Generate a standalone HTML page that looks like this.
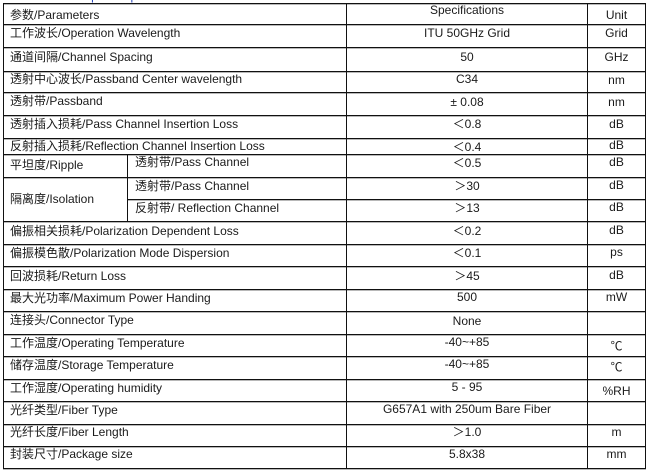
<!DOCTYPE html>
<html>
<head>
<meta charset="utf-8">
<style>
html,body{margin:0;padding:0;background:#fff;}
body{width:652px;height:475px;position:relative;overflow:hidden;font-family:"Liberation Sans","Noto Sans CJK SC",sans-serif;font-size:12px;color:#1a1a1a;}
.h{position:absolute;height:1px;background:#111;box-shadow:0 1px 0 #b8b8b8;}
.v{position:absolute;width:1px;background:#111;}
.t{position:absolute;height:14px;line-height:14px;white-space:nowrap;}
.c{text-align:center;}
.s{left:346px;width:242px;}
.u{left:588px;width:57px;}
.p{left:10px;}
.q{left:135px;}
.cj{font-family:"Noto Sans CJK SC","Liberation Sans",sans-serif;}
.top{position:absolute;left:28px;top:-11px;font-size:12px;line-height:14px;color:#2b47b8;white-space:nowrap;}
</style>
</head>
<body>
<div class="top"><b>Table 2</b>&nbsp;&nbsp;&nbsp;&nbsp;Optical Specifications of 50GHz Filter</div>

<!-- horizontal lines -->
<div class="h" style="left:3px;width:643px;top:3px"></div>
<div class="h" style="left:3px;width:643px;top:24px"></div>
<div class="h" style="left:3px;width:643px;top:47px"></div>
<div class="h" style="left:3px;width:643px;top:71px"></div>
<div class="h" style="left:3px;width:643px;top:92px"></div>
<div class="h" style="left:3px;width:643px;top:115px"></div>
<div class="h" style="left:3px;width:643px;top:138px"></div>
<div class="h" style="left:3px;width:643px;top:154px"></div>
<div class="h" style="left:3px;width:643px;top:177px"></div>
<div class="h" style="left:127px;width:519px;top:199px"></div>
<div class="h" style="left:3px;width:643px;top:221px"></div>
<div class="h" style="left:3px;width:643px;top:244px"></div>
<div class="h" style="left:3px;width:643px;top:266px"></div>
<div class="h" style="left:3px;width:643px;top:289px"></div>
<div class="h" style="left:3px;width:643px;top:311px"></div>
<div class="h" style="left:3px;width:643px;top:334px"></div>
<div class="h" style="left:3px;width:643px;top:356px"></div>
<div class="h" style="left:3px;width:643px;top:379px"></div>
<div class="h" style="left:3px;width:643px;top:401px"></div>
<div class="h" style="left:3px;width:643px;top:424px"></div>
<div class="h" style="left:3px;width:643px;top:446px"></div>
<div class="h" style="left:3px;width:643px;top:468px"></div>

<!-- vertical lines -->
<div class="v" style="left:3px;top:3px;height:466px"></div>
<div class="v" style="left:346px;top:3px;height:466px"></div>
<div class="v" style="left:587px;top:3px;height:466px"></div>
<div class="v" style="left:645px;top:3px;height:466px"></div>
<div class="v" style="left:127px;top:154px;height:67px"></div>

<!-- row 1 -->
<div class="t p" style="top:8px">参数/Parameters</div>
<div class="t c s" style="top:3px">Specifications</div>
<div class="t c u" style="top:8px">Unit</div>
<!-- row 2 -->
<div class="t p" style="top:26px">工作波长/Operation Wavelength</div>
<div class="t c s" style="top:26px">ITU 50GHz Grid</div>
<div class="t c u" style="top:26px">Grid</div>
<!-- row 3 -->
<div class="t p" style="top:50px">通道间隔/Channel Spacing</div>
<div class="t c s" style="top:50px">50</div>
<div class="t c u" style="top:50px">GHz</div>
<!-- row 4 -->
<div class="t p" style="top:72px">透射中心波长/Passband Center wavelength</div>
<div class="t c s" style="top:72px">C34</div>
<div class="t c u" style="top:73px">nm</div>
<!-- row 5 -->
<div class="t p" style="top:94px">透射带/Passband</div>
<div class="t c s" style="top:95px">± 0.08</div>
<div class="t c u" style="top:95px">nm</div>
<!-- row 6 -->
<div class="t p" style="top:117px">透射插入损耗/Pass Channel Insertion Loss</div>
<div class="t c s" style="top:117px"><span class="cj">＜</span>0.8</div>
<div class="t c u" style="top:117px">dB</div>
<!-- row 7 -->
<div class="t p" style="top:139px">反射插入损耗/Reflection Channel Insertion Loss</div>
<div class="t c s" style="top:140px"><span class="cj">＜</span>0.4</div>
<div class="t c u" style="top:138px">dB</div>
<!-- row 8 ripple -->
<div class="t p" style="top:158px">平坦度/Ripple</div>
<div class="t q" style="top:155px">透射带/Pass Channel</div>
<div class="t c s" style="top:156px"><span class="cj">＜</span>0.5</div>
<div class="t c u" style="top:155px">dB</div>
<!-- isolation -->
<div class="t p" style="top:192px">隔离度/Isolation</div>
<div class="t q" style="top:179px">透射带/Pass Channel</div>
<div class="t c s" style="top:179px"><span class="cj">＞</span>30</div>
<div class="t c u" style="top:178px">dB</div>
<div class="t q" style="top:201px">反射带/ Reflection Channel</div>
<div class="t c s" style="top:201px"><span class="cj">＞</span>13</div>
<div class="t c u" style="top:200px">dB</div>
<!-- PDL -->
<div class="t p" style="top:224px">偏振相关损耗/Polarization Dependent Loss</div>
<div class="t c s" style="top:224px"><span class="cj">＜</span>0.2</div>
<div class="t c u" style="top:223px">dB</div>
<!-- PMD -->
<div class="t p" style="top:246px">偏振模色散/Polarization Mode Dispersion</div>
<div class="t c s" style="top:246px"><span class="cj">＜</span>0.1</div>
<div class="t c u" style="top:245px">ps</div>
<!-- RL -->
<div class="t p" style="top:269px">回波损耗/Return Loss</div>
<div class="t c s" style="top:269px"><span class="cj">＞</span>45</div>
<div class="t c u" style="top:268px">dB</div>
<!-- power -->
<div class="t p" style="top:291px">最大光功率/Maximum Power Handing</div>
<div class="t c s" style="top:290px">500</div>
<div class="t c u" style="top:290px">mW</div>
<!-- connector -->
<div class="t p" style="top:313px">连接头/Connector Type</div>
<div class="t c s" style="top:314px">None</div>
<!-- op temp -->
<div class="t p" style="top:336px">工作温度/Operating Temperature</div>
<div class="t c s" style="top:335px">-40~+85</div>
<div class="t c u cj" style="top:339px">℃</div>
<!-- storage -->
<div class="t p" style="top:358px">储存温度/Storage Temperature</div>
<div class="t c s" style="top:357px">-40~+85</div>
<div class="t c u cj" style="top:360px">℃</div>
<!-- humidity -->
<div class="t p" style="top:381px">工作湿度/Operating humidity</div>
<div class="t c s" style="top:380px">5 - 95</div>
<div class="t c u" style="top:384px">%RH</div>
<!-- fiber type -->
<div class="t p" style="top:403px">光纤类型/Fiber Type</div>
<div class="t c s" style="top:402px">G657A1 with 250um Bare Fiber</div>
<!-- fiber length -->
<div class="t p" style="top:425px">光纤长度/Fiber Length</div>
<div class="t c s" style="top:425px"><span class="cj">＞</span>1.0</div>
<div class="t c u" style="top:425px">m</div>
<!-- package -->
<div class="t p" style="top:447px">封装尺寸/Package size</div>
<div class="t c s" style="top:447px">5.8x38</div>
<div class="t c u" style="top:447px">mm</div>
</body>
</html>
